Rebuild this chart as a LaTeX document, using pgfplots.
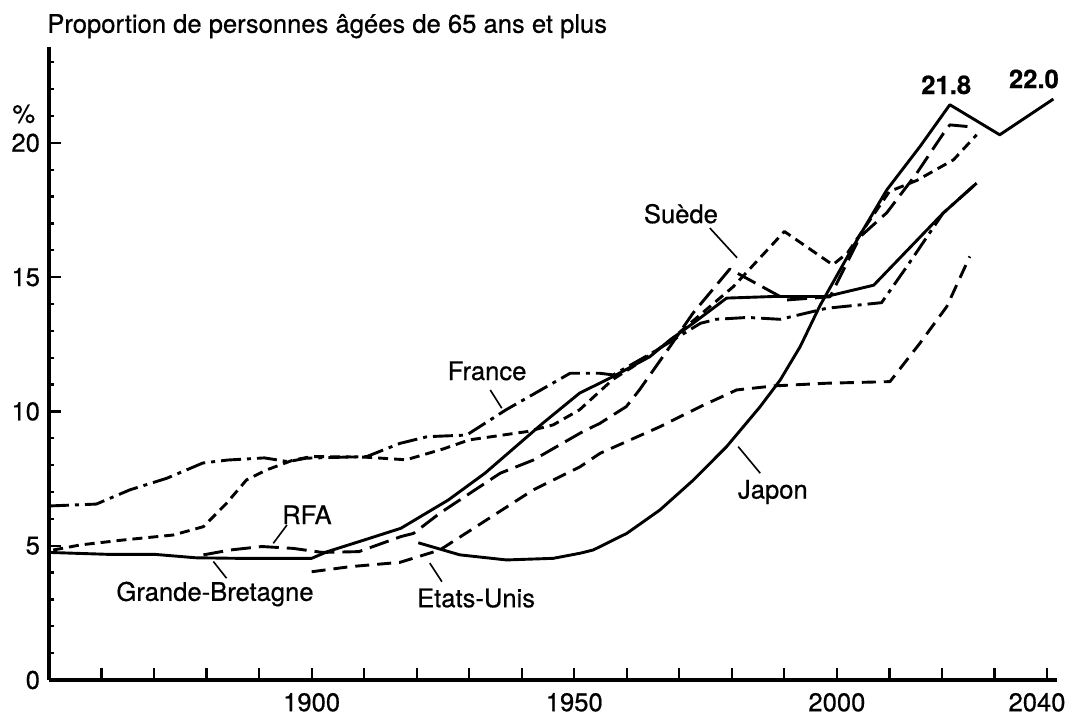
\documentclass[border=0pt]{standalone}
\usepackage{pgfplots}
\pgfplotsset{compat=1.18}
\usepackage{fontspec}
\setmainfont{TeX Gyre Heros}
\newcommand{\chfont}{\fontsize{12.8}{15}\selectfont\addfontfeatures{FakeBold=0.6}}
\begin{document}
\begin{tikzpicture}[font=\chfont]
\path[use as bounding box] (-24.5pt,-18pt) rectangle (510pt,340pt);
\begin{axis}[
  at={(0pt,0pt)}, anchor=south west,
  scale only axis, width=504pt, height=316.5pt,
  xmin=1850, xmax=2041.9, ymin=0, ymax=23.57,
  axis lines*=left,
  axis line style={line width=1.7pt, black},
  xtick={1860,1870,...,2030},
  xticklabels={,,,,1900,,,,,1950,,,,,2000,,,},
  extra x ticks={2040}, extra x tick labels={2040},
  extra x tick style={xticklabel style={xshift=-5pt}},
  ytick={0,5,10,15,20}, yticklabels={0,5,10,15,20},
  minor ytick={1,2,3,4,6,7,8,9,11,12,13,14,16,17,18,19,21,22,23},
  tick align=inside,
  major tick length=6pt, minor tick length=2.5pt,
  tick style={line width=1.1pt, black},
  ticklabel style={font=\chfont},
  xticklabel style={yshift=-3pt},
  yticklabel style={xshift=-1pt},
  clip=false,
  every axis plot/.append style={line width=1.45pt, black, line join=round},
]
% Grande-Bretagne
\addplot[solid] coordinates {
(1850,4.75) (1861,4.68) (1870,4.68) (1878,4.55) (1886,4.53) (1900,4.53) (1903,4.78) (1909,5.15) (1917,5.65) (1926,6.7) (1933,7.7) (1944,9.56) (1951,10.68) (1957.4,11.3) (1964.4,12.04) (1968.2,12.66) (1972.6,13.28) (1979,14.22) (1988,14.28) (1998,14.28) (2007,14.7) (2020.2,17.38) (2026.6,18.5)};
% France
\addplot[dash pattern=on 10pt off 3pt on 2pt off 3pt] coordinates {
(1850,6.48) (1859,6.55) (1865.4,7.08) (1872.4,7.51) (1879.3,8.08) (1884,8.19) (1891,8.27) (1895.5,8.13) (1899,8.26) (1910.5,8.32) (1916.8,8.81) (1922,9.06) (1929.5,9.12) (1937,10.06) (1949.2,11.42) (1954.9,11.42) (1957.4,11.36) (1965,12.2) (1974,13.28) (1977,13.43) (1983,13.5) (1989.2,13.43) (1998,13.84) (2008.5,14.05) (2013.3,15.39) (2020.2,17.38) (2026.6,18.5)};
% Suede
\addplot[dash pattern=on 5pt off 3pt] coordinates {
(1850.8,4.84) (1856,5.03) (1864,5.21) (1873.7,5.4) (1879.4,5.71) (1883.8,6.58) (1887.6,7.45) (1891.4,7.82) (1896.5,8.19) (1900,8.32) (1910,8.3) (1918,8.2) (1925,8.6) (1930,8.94) (1941,9.25) (1946,9.5) (1951,10.06) (1957.4,11.2) (1961.2,11.67) (1967.6,12.54) (1980.3,14.65) (1990,16.7) (1999.2,15.46) (2002,15.9) (2010,18.19) (2015.2,18.6) (2022.2,19.37) (2026.6,20.3)};
% RFA
\addplot[dash pattern=on 10pt off 4pt] coordinates {
(1879.4,4.66) (1884.5,4.84) (1890.5,4.97) (1896.5,4.9) (1902,4.75) (1909,4.78) (1917,5.34) (1919.4,5.46) (1924.4,6.21) (1935.9,7.7) (1942.2,8.19) (1951.1,9.19) (1954.9,9.56) (1959.9,10.18) (1962.4,10.8) (1968.2,12.41) (1972.6,13.66) (1979.6,15.3) (1990.4,14.15) (1998.7,14.27) (2004.4,16.5) (2009.5,17.4) (2015.2,18.87) (2020.3,20.36) (2021.5,20.67) (2025.3,20.6)};
% Etats-Unis
\addplot[dash pattern=on 7pt off 4pt] coordinates {
(1900,4.03) (1907.3,4.22) (1916.8,4.38) (1924.4,4.84) (1933.3,5.96) (1942.2,7.08) (1951.1,7.94) (1954.9,8.44) (1966.3,9.43) (1974,10.18) (1980.9,10.8) (1988,10.95) (1998,11.05) (2010.1,11.11) (2015.8,12.54) (2020.9,13.9) (2025.3,15.77)};
% Japon
\addplot[solid] coordinates {
(1920.3,5.11) (1928.2,4.66) (1937.1,4.47) (1946,4.53) (1951.1,4.72) (1953.6,4.84) (1960,5.46) (1966.3,6.33) (1972.7,7.45) (1979,8.69) (1985.4,10.18) (1989.2,11.17) (1993,12.41) (1996.8,13.95) (2003.1,16.14) (2009.5,18.25) (2015.8,19.86) (2021.5,21.42) (2031,20.3) (2041.2,21.63)};

% labels
\node[anchor=base west, inner sep=0pt] at (axis cs:1849.6,24.1) {Proportion de personnes âgées de 65 ans et plus};
\node at (axis cs:1845.2,21.08) {\%};
\node at (axis cs:1881.6,3.2) {Grande-Bretagne};
\draw[line width=0.8pt] (axis cs:1881.3,4.41) -- (axis cs:1883.8,3.79);
\node at (axis cs:1899.1,6.15) {RFA};
\draw[line width=0.8pt] (axis cs:1895.3,5.77) -- (axis cs:1892.7,5.09);
\node at (axis cs:1931.3,3.05) {Etats-Unis};
\draw[line width=0.8pt] (axis cs:1922.5,4.35) -- (axis cs:1924.8,3.66);
\node at (axis cs:1933.4,11.51) {France};
\draw[line width=0.8pt] (axis cs:1934.0,10.8) -- (axis cs:1936.2,10.12);
\node at (axis cs:1970.3,17.36) {Suède};
\draw[line width=0.8pt] (axis cs:1975.8,16.83) -- (axis cs:1981.0,15.72);
\node at (axis cs:1987.8,7.0) {Japon};
\draw[line width=0.8pt] (axis cs:1981.2,8.69) -- (axis cs:1985.4,7.7);
\node[font=\chfont\bfseries] at (axis cs:2020.8,22.16) {21.8};
\node[font=\chfont\bfseries] at (axis cs:2037.5,22.38) {22.0};
\end{axis}
\end{tikzpicture}
\end{document}
